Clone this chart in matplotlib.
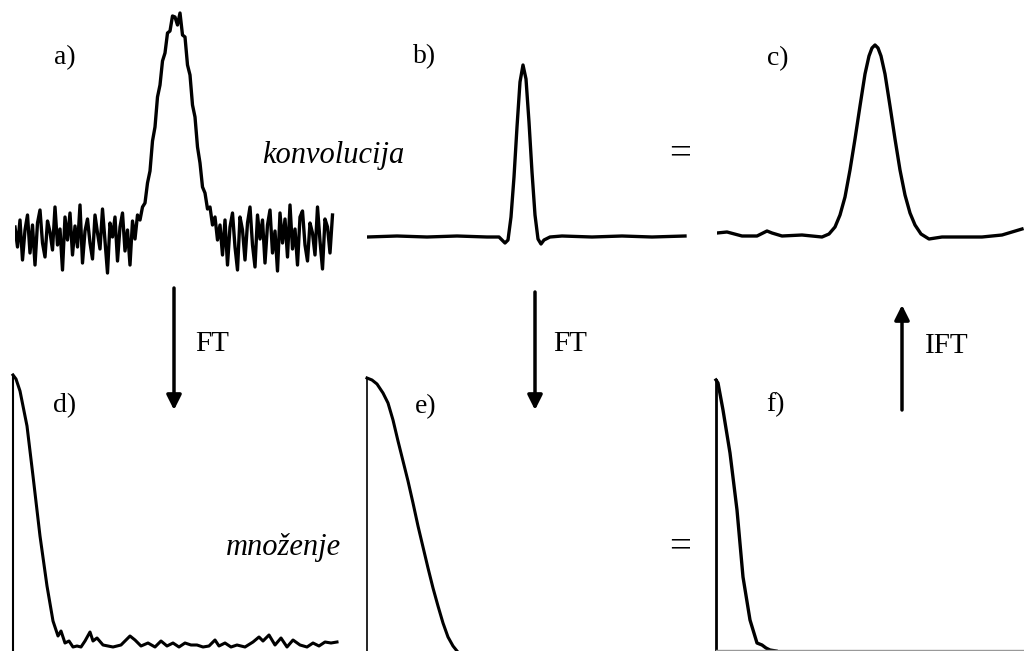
import numpy as np
import matplotlib.pyplot as plt

W, H = 1024, 651

# a) noisy measured peak, uniformly sampled (step 2.5)
a_step = 2.5
a_y = [8, -12, 15, -25, 5, 20, -18, 10, -30, 12,
       25, -8, -22, 14, 3, -15, 28, -10, 6, -35,
       18, -5, 22, -20, 9, -12, 30, -28, 4, 16,
       -8, -24, 20, 2, -14, 26, -6, -38, 12, -2,
       18, -26, 8, 22, -16, 5, -30, 14, -4, 20,
       15, 28, 32, 52, 64, 94, 108, 138, 150, 174,
       182, 202, 204, 219, 218, 210, 222, 200, 198, 170,
       160, 130, 118, 88, 72, 48, 42, 26, 28, 10,
       18, -5, 10,
       -20, 15, -30, 8, 22, -12, -35, 18, 5, -25,
       12, 28, -10, -32, 20, -4, 15, -28, 10, 25,
       -18, 4, -36, 22, -8, 16, -22, 30, -14, 6,
       -30, 18, 24, -10, -26, 12, 2, -20, 28, -6,
       -34, 16, 8, -18, 20]

# b) instrument function
b_x = [0, 30, 60, 90, 120, 132, 138, 141, 144, 147,
       150, 153, 156, 159, 162, 165, 168, 171, 174, 177,
       183, 195, 225, 255, 285, 318]
b_y = [0, 1, 0, 1, 0, 0, -6, -3, 20, 60,
       110, 155, 172, 158, 115, 65, 22, -2, -7, -3,
       0, 1, 0, 1, 0, 1]

# c) result of convolution
c_x = [0, 10, 25, 40, 50, 55, 65, 85, 105, 112,
       118, 123, 128, 133, 138, 143, 148, 152, 155, 158,
       161, 164, 168, 173, 178, 183, 188, 193, 198, 204,
       212, 225, 245, 265, 285, 305]
c_y = [4, 5, 1, 1, 6, 4, 1, 2, 0, 3,
       10, 22, 40, 67, 98, 131, 163, 181, 189, 192,
       189, 181, 163, 131, 98, 67, 42, 24, 12, 3,
       -2, 0, 0, 0, 2, 8]

# d) FT of a)
d_x = [0, 3, 7, 14, 20, 27, 34, 40, 45, 48,
       52, 56, 60, 64, 68, 72, 77, 80, 84, 90,
       95, 100, 108, 117, 122, 128, 135, 142, 148, 154,
       160, 166, 172, 178, 184, 190, 196, 202, 206, 212,
       218, 224, 232, 240, 246, 250, 256, 262, 268, 274,
       280, 287, 294, 300, 306, 312, 318, 324]
d_y = [276, 272, 260, 225, 175, 115, 65, 30, 15, 20,
       8, 10, 4, 5, 4, 10, 19, 10, 13, 6,
       5, 4, 6, 15, 11, 5, 8, 4, 10, 5,
       8, 4, 8, 6, 6, 4, 5, 11, 5, 8,
       4, 6, 4, 9, 14, 10, 16, 6, 13, 4,
       11, 6, 4, 8, 5, 9, 8, 9]

# e) FT of b)
e_x = [0, 5, 10, 16, 21, 26, 31, 36, 41, 46,
       51, 56, 61, 66, 71, 76, 81, 86, 90]
e_y = [273, 271, 267, 258, 248, 231, 210, 190, 170, 148,
       125, 104, 83, 63, 45, 28, 14, 5, 0]

# f) product d) * e)
f_x = [0, 2, 7, 14, 21, 27, 34, 41, 46, 50, 54, 60]
f_y = [271, 268, 241, 198, 141, 74, 31, 8, 6, 3, 1, 0]

panel_labels = ['a)', 'b)', 'c)', 'd)', 'e)', 'f)']
label_pos = [(65, 58), (425, 57), (778, 59), (65, 406), (426, 407), (775, 405)]

fig = plt.figure(figsize=(10.24, 6.51), dpi=100)


def panel(left, top, width, height, xlim, ylim):
    ax = fig.add_axes([left / W, 1 - (top + height) / H, width / W, height / H])
    ax.set_xlim(xlim)
    ax.set_ylim(ylim)
    ax.set_xticks([])
    ax.set_yticks([])
    for s in ax.spines.values():
        s.set_visible(False)
    ax.patch.set_alpha(0)
    return ax


ax = panel(15, 10, 320, 280, (0, 320), (-55, 225))
ax.plot(np.arange(len(a_y)) * a_step, a_y, color='black', lw=2.4)

ax = panel(367, 40, 320, 220, (0, 320), (-23, 197))
ax.plot(b_x, b_y, color='black', lw=2.4)

ax = panel(717, 20, 307, 240, (0, 307), (-23, 217))
ax.plot(c_x, c_y, color='black', lw=2.4)

ax = panel(13, 375, 330, 276, (0, 330), (0, 276))
ax.plot(d_x, d_y, color='black', lw=2.2, clip_on=False)
ax.spines['left'].set_visible(True)
ax.spines['left'].set_linewidth(1.5)

ax = panel(367, 378, 330, 273, (0, 330), (0, 273))
ax.plot(e_x, e_y, color='black', lw=2.2, clip_on=False)
ax.spines['left'].set_visible(True)
ax.spines['left'].set_linewidth(1.2)

ax = panel(716, 380, 308, 271, (0, 308), (0, 271))
ax.plot(f_x, f_y, color='black', lw=2.4, clip_on=False)
ax.spines['left'].set_visible(True)
ax.spines['left'].set_linewidth(2.0)
ax.spines['bottom'].set_visible(True)
ax.spines['bottom'].set_position(('data', 1))
ax.spines['bottom'].set_color('#999999')
ax.spines['bottom'].set_linewidth(1.0)

# overlay for labels and arrows
ov = fig.add_axes([0, 0, 1, 1])
ov.set_xlim(0, W)
ov.set_ylim(H, 0)
ov.axis('off')
ov.patch.set_alpha(0)

font = 'Liberation Serif'
for lab, (x, y) in zip(panel_labels, label_pos):
    ov.text(x, y, lab, ha='center', va='center', fontsize=20, family=font)

ov.text(333, 155, 'konvolucija', ha='center', va='center', fontsize=22,
        family=font, style='italic')
ov.text(283, 548, 'množenje', ha='center', va='center', fontsize=22,
        family=font, style='italic')
ov.text(680, 155, '=', ha='center', va='center', fontsize=28, family=font)
ov.text(680, 548, '=', ha='center', va='center', fontsize=28, family=font)

ov.text(212, 344, 'FT', ha='center', va='center', fontsize=21, family=font)
ov.text(570, 344, 'FT', ha='center', va='center', fontsize=21, family=font)
ov.text(947, 346, 'IFT', ha='center', va='center', fontsize=21, family=font)

arrow = dict(arrowstyle='-|>', lw=2.5, color='black', mutation_scale=22,
             shrinkA=0, shrinkB=0)
ov.annotate('', xy=(174, 410), xytext=(174, 288), arrowprops=arrow)
ov.annotate('', xy=(535, 410), xytext=(535, 292), arrowprops=arrow)
ov.annotate('', xy=(902, 305), xytext=(902, 410), arrowprops=arrow)

fig.savefig('out.png', dpi=100, facecolor='white')
